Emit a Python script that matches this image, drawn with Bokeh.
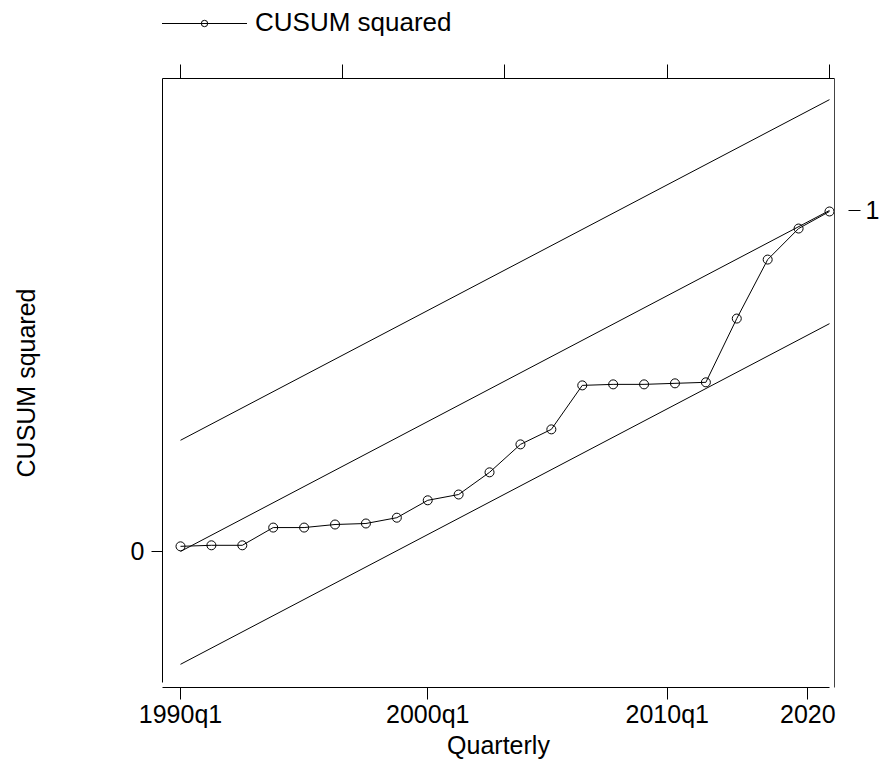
from bokeh.plotting import figure
from bokeh.layouts import column
from bokeh.models import Range1d, LinearAxis, FixedTicker, Legend, LegendItem
from bokeh.embed import file_html
from bokeh.resources import INLINE

# ---- data ----
quarter_index = [0, 5, 10, 15, 20, 25, 30, 35, 40, 45, 50, 55,
                 60, 65, 70, 75, 80, 85, 90, 95, 100, 105]
cusum_sq = [0.015, 0.018, 0.018, 0.070, 0.070, 0.079, 0.082, 0.099,
            0.150, 0.167, 0.232, 0.314, 0.358, 0.487, 0.490, 0.490,
            0.493, 0.496, 0.683, 0.856, 0.947, 0.997]

band_x = [0, 105]
upper_band = [0.326, 1.325]
expected_line = [0.0, 1.0]
lower_band = [-0.331, 0.668]

bottom_tick_values = [0, 40, 78.75, 101.5]
bottom_tick_labels = ["1990q1", "2000q1", "2010q1", "2020"]
top_tick_values = [0, 26.25, 52.5, 78.75, 105]
left_tick_values = [0]
right_tick_values = [1]

FONT = "Liberation Sans"
X0, X1 = -2.912, 105.81
Y0, Y1 = -0.399, 1.387
LEG_H = 40

# ---- legend strip (own small figure above the chart) ----
lf = figure(width=882, height=LEG_H, output_backend="svg", toolbar_location=None,
            x_axis_location=None, y_axis_location=None, min_border=0)
lf.grid.visible = False
lf.outline_line_color = None
lf.background_fill_color = "white"
lf.border_fill_color = "white"
lg_line = lf.line(quarter_index, cusum_sq, line_color="black", line_width=1, visible=False)
lg_pts = lf.scatter(quarter_index, cusum_sq, marker="circle", size=9,
                    fill_color=None, line_color="black", line_width=1, visible=False)
legend = Legend(items=[LegendItem(label="CUSUM squared", renderers=[lg_line, lg_pts])],
                location=(-1, 2), glyph_width=86, glyph_height=16,
                label_standoff=8, padding=0, margin=0, spacing=0,
                border_line_color=None, background_fill_alpha=0,
                inactive_fill_alpha=0,
                label_text_font=FONT, label_text_font_size="26px",
                label_text_color="black")
lf.add_layout(legend)

# ---- main chart ----
p = figure(width=882, height=763 - LEG_H, output_backend="svg", toolbar_location=None,
           x_range=Range1d(X0, X1), y_range=Range1d(Y0, Y1),
           x_axis_location=None, y_axis_location=None,
           min_border_left=162, min_border_right=48,
           min_border_top=78 - LEG_H, min_border_bottom=76)
p.grid.visible = False
p.outline_line_color = None
p.background_fill_color = "white"
p.border_fill_color = "white"


def style(ax, tick_out, standoff, size="25px"):
    ax.axis_line_color = "black"
    ax.axis_line_width = 1
    ax.major_tick_line_color = "black"
    ax.major_tick_in = 0
    ax.major_tick_out = tick_out
    ax.minor_tick_in = 0
    ax.minor_tick_out = 0
    ax.major_label_standoff = standoff
    ax.major_label_text_font = FONT
    ax.major_label_text_font_size = size
    ax.major_label_text_color = "black"
    ax.axis_label_text_font = FONT
    ax.axis_label_text_font_size = size
    ax.axis_label_text_font_style = "normal"
    ax.axis_label_text_color = "black"


xb = LinearAxis(ticker=FixedTicker(ticks=bottom_tick_values, minor_ticks=[]),
                major_label_overrides={float(v): t for v, t in zip(bottom_tick_values, bottom_tick_labels)},
                axis_label="Quarterly", bounds=(X0, 105))
style(xb, 12, 0)
xb.axis_label_standoff = 0
p.add_layout(xb, "below")

xt = LinearAxis(ticker=FixedTicker(ticks=top_tick_values, minor_ticks=[]),
                major_label_overrides={float(v): "" for v in top_tick_values},
                bounds=(X0, 108.07))
style(xt, 14, 0, "1px")
p.add_layout(xt, "above")

yl = LinearAxis(ticker=FixedTicker(ticks=left_tick_values, minor_ticks=[]),
                axis_label="CUSUM squared", bounds=(-0.384, Y1))
style(yl, 11, 7)
yl.axis_label_standoff = 88
p.add_layout(yl, "left")

yr = LinearAxis(ticker=FixedTicker(ticks=right_tick_values, minor_ticks=[]))
style(yr, 26, 5)
yr.major_tick_in = -14
yr.axis_line_color = "#444444"
p.add_layout(yr, "right")

# bands
for band in (upper_band, expected_line, lower_band):
    p.line(band_x, band, line_color="black", line_width=1)

p.line(quarter_index, cusum_sq, line_color="black", line_width=1)
p.scatter(quarter_index, cusum_sq, marker="circle", size=9,
          fill_color=None, line_color="black", line_width=1)

layout = column(lf, p, spacing=0)
open("out.html", "w").write(file_html(layout, INLINE))
